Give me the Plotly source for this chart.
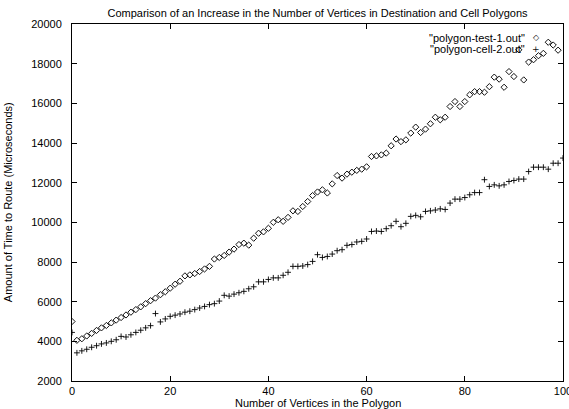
import plotly.graph_objects as go

title_text = "Comparison of an Increase in the Number of Vertices in Destination and Cell Polygons"
x_label = "Number of Vertices in the Polygon"
y_label = "Amount of Time to Route (Microseconds)"
series_names = ['"polygon-test-1.out"', '"polygon-cell-2.out"']

x_test = list(range(0, 100))
y_test = [
    5000, 4050, 4130, 4270, 4400, 4550, 4680, 4800, 4930, 5070,
    5200, 5330, 5470, 5600, 5740, 5900, 6050, 6180, 6350, 6500,
    6680, 6880, 7030, 7300, 7350, 7420, 7520, 7650, 7780, 8150,
    8230, 8330, 8500, 8650, 8880, 8950, 8850, 9200, 9450, 9520,
    9700, 10000, 10130, 10050, 10250, 10580, 10550, 10800, 11050, 11350,
    11530, 11640, 11480, 11940, 12360, 12230, 12430, 12530, 12620, 12680,
    12800, 13320, 13350, 13400, 13490, 13860, 14200, 14070, 14160, 14500,
    14800, 14530, 14700, 14970, 15300, 15170, 15300, 15840, 16090, 15840,
    16090, 16430, 16590, 16590, 16560, 16840, 17320, 17220, 16810, 17600,
    17350, 18700, 17180, 18080, 18200, 18400, 18520, 19080, 18940, 18680,
]

x_cell = list(range(0, 101))
y_cell = [
    4450, 3420, 3520, 3600, 3700, 3780, 3870, 3920, 4000, 4080,
    4250, 4220, 4330, 4450, 4560, 4680, 4790, 5400, 4980, 5130,
    5260, 5320, 5380, 5470, 5520, 5600, 5680, 5760, 5850, 5900,
    6030, 6320, 6280, 6380, 6450, 6520, 6650, 6750, 7000, 7000,
    7120, 7200, 7200, 7330, 7480, 7780, 7780, 7800, 7870, 8030,
    8370, 8230, 8280, 8400, 8570, 8620, 8840, 8880, 9010, 9040,
    9160, 9540, 9560, 9540, 9680, 9830, 10050, 9780, 9950, 10300,
    10350, 10280, 10550, 10580, 10620, 10680, 10650, 10970, 11170, 11170,
    11250, 11390, 11500, 11500, 12150, 11810, 11890, 11840, 11890, 12060,
    12110, 12180, 12180, 12560, 12780, 12780, 12780, 12680, 12980, 12980,
    13240,
]

x_ticks = [0, 20, 40, 60, 80, 100]
y_ticks = [2000, 4000, 6000, 8000, 10000, 12000, 14000, 16000, 18000, 20000]

FONT = "Liberation Sans, Arial, Helvetica, sans-serif"

fig = go.Figure()
fig.add_trace(go.Scatter(
    x=x_test, y=y_test, mode="markers", name=series_names[0],
    marker=dict(symbol="diamond-open", size=4.8, color="#111111", line=dict(width=1, color="#111111")),
    showlegend=False,
))
fig.add_trace(go.Scatter(
    x=x_cell, y=y_cell, mode="markers", name=series_names[1],
    marker=dict(symbol="cross-thin-open", size=4.2, color="#000000", line=dict(width=0.9, color="#000000")),
    showlegend=False,
))

# gnuplot-style key: right-justified text followed by the sample symbol
key_rows = [(series_names[0], "◇", 0.961, 8), (series_names[1], "+", 0.930, 9)]
for name, glyph, yy, gsize in key_rows:
    fig.add_annotation(xref="paper", yref="paper", x=0.9257, y=yy, text=name,
                       showarrow=False, xanchor="right", yanchor="middle",
                       font=dict(family=FONT, size=11, color="#000000"))
    fig.add_annotation(xref="paper", yref="paper", x=0.946, y=yy, text=glyph,
                       showarrow=False, xanchor="center", yanchor="middle",
                       font=dict(family="DejaVu Sans", size=gsize, color="#111111"))

# axis titles placed as in the gnuplot layout
fig.add_annotation(xref="paper", yref="paper", x=0.5, y=-0.063, text=x_label,
                   showarrow=False, xanchor="center", yanchor="middle",
                   font=dict(family=FONT, size=11, color="#000000"))
fig.add_annotation(xref="paper", yref="paper", x=-0.131, y=0.5, text=y_label, textangle=-90,
                   showarrow=False, xanchor="center", yanchor="middle",
                   font=dict(family=FONT, size=11, color="#000000"))

axis_common = dict(
    showgrid=False, zeroline=False, showline=True, linecolor="#000000", linewidth=1,
    mirror="ticks", ticks="inside", ticklen=5, tickcolor="#000000", tickwidth=1,
    tickfont=dict(family=FONT, size=11, color="#000000"), ticklabeloverflow="allow",
)

fig.update_layout(
    width=569, height=409,
    margin=dict(l=72, r=6, t=24, b=28, autoexpand=False),
    paper_bgcolor="#ffffff", plot_bgcolor="#ffffff",
    title=dict(text=title_text, x=0.5, xref="paper", xanchor="center", y=0.969, yanchor="middle",
               font=dict(family=FONT, size=11, color="#000000")),
    xaxis=dict(range=[0, 100], tickvals=x_ticks, ticktext=[str(v) for v in x_ticks],
               ticklabelstandoff=0, automargin=False, **axis_common),
    yaxis=dict(range=[2000, 20000], tickvals=y_ticks, ticktext=[str(v) for v in y_ticks],
               ticklabelstandoff=7, automargin=False, **axis_common),
)

fig.write_html("out.html", config={"displayModeBar": False},
               post_script="document.body.style.margin='0';document.body.style.overflow='hidden';")
